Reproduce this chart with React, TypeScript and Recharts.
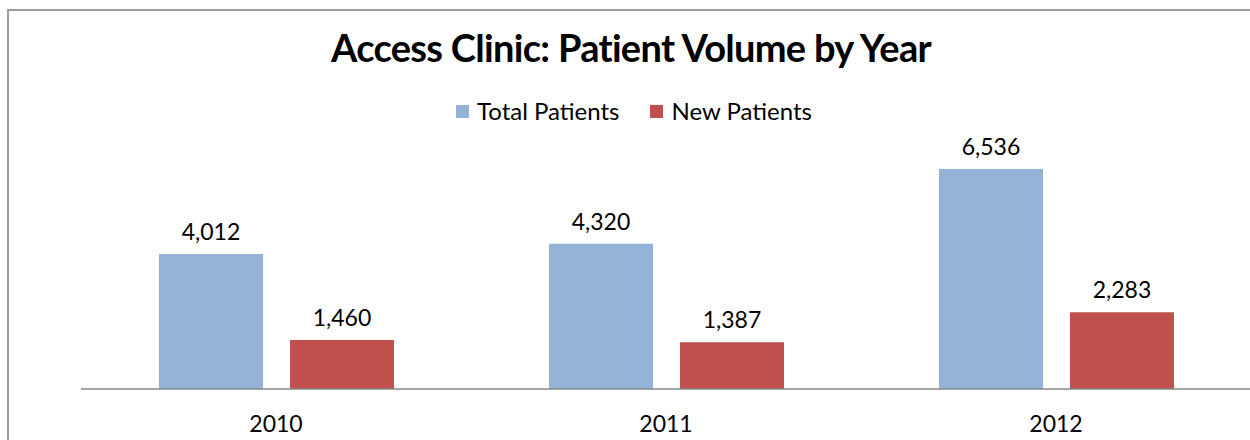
import React from 'react';
import { BarChart, Bar, XAxis, YAxis, LabelList } from 'recharts';

const YEARS = ['2010', '2011', '2012'];
const TOTAL_PATIENTS = [4012, 4320, 6536];
const NEW_PATIENTS = [1460, 1387, 2283];

const SERIES = [
  { key: 'total', name: 'Total Patients', color: '#95b3d7' },
  { key: 'new', name: 'New Patients', color: '#c0504d' },
];

const data = YEARS.map((year, i) => ({
  year,
  total: TOTAL_PATIENTS[i],
  new: NEW_PATIENTS[i],
}));

const FONT = 'Lato, "Open Sans", sans-serif';
const fmt = (v: any) => Number(v).toLocaleString('en-US');

export default function App() {
  return (
    <div
      style={{
        position: 'fixed',
        left: 7,
        top: 9,
        width: 1270,
        height: 450,
        borderTop: '2px solid #9a9a9a',
        borderLeft: '2px solid #9a9a9a',
        boxSizing: 'border-box',
        background: '#fff',
        fontFamily: FONT,
      }}
    >
      {/* title */}
      <div
        style={{
          position: 'absolute',
          left: 0,
          top: 17,
          width: 1244,
          textAlign: 'center',
          fontSize: 38,
          fontWeight: 700,
          lineHeight: 1,
          letterSpacing: -0.7,
          color: '#000',
        }}
      >
        Access Clinic: Patient Volume by Year
      </div>

      {/* legend */}
      <div
        style={{
          position: 'absolute',
          left: 447,
          top: 88,
          display: 'flex',
          alignItems: 'center',
          fontSize: 24,
          lineHeight: 1,
          color: '#000',
        }}
      >
        {SERIES.map((s, i) => (
          <div key={s.key} style={{ display: 'flex', alignItems: 'center', marginRight: i === 0 ? 31 : 0 }}>
            <span style={{ display: 'inline-block', width: 13, height: 13, background: s.color, marginRight: 8 }} />
            <span>{s.name}</span>
          </div>
        ))}
      </div>

      <div style={{ position: 'absolute', left: 0, top: 0 }}>
        <BarChart
          width={1250}
          height={428}
          data={data}
          margin={{ top: 142.5, right: 8, left: 72, bottom: 0 }}
          barCategoryGap="20%"
          barGap={27}
        >
          <XAxis
            dataKey="year"
            height={50}
            axisLine={{ stroke: '#868686', strokeWidth: 1.5 }}
            tickLine={false}
            tickMargin={21}
            tick={{ fill: '#000', fontSize: 23, fontFamily: FONT }}
          />
          <YAxis hide domain={[0, 7000]} />
          {SERIES.map((s) => (
            <Bar key={s.key} dataKey={s.key} name={s.name} fill={s.color} isAnimationActive={false}>
              <LabelList
                dataKey={s.key}
                position="top"
                offset={14}
                formatter={fmt}
                style={{ fill: '#000', fontSize: 23, fontFamily: FONT }}
              />
            </Bar>
          ))}
        </BarChart>
      </div>
    </div>
  );
}
